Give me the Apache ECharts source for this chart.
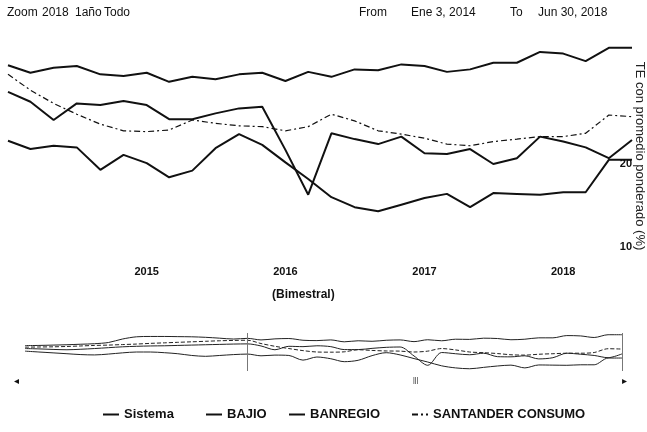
<!DOCTYPE html>
<html><head><meta charset="utf-8">
<script src="https://cdn.jsdelivr.net/npm/echarts@6/dist/echarts.min.js"></script>
<style>html,body{margin:0;padding:0;background:#fff}#c{width:647px;height:432px}</style>
</head><body><div id="c"></div>
<script>
// Bimonthly dates shown in the main panel
const dates = ['2014-01-01','2014-03-01','2014-05-01','2014-07-01','2014-09-01','2014-11-01',
  '2015-01-01','2015-03-01','2015-05-01','2015-07-01','2015-09-01','2015-11-01',
  '2016-01-01','2016-03-01','2016-05-01','2016-07-01','2016-09-01','2016-11-01',
  '2017-01-01','2017-03-01','2017-05-01','2017-07-01','2017-09-01','2017-11-01',
  '2018-01-01','2018-03-01','2018-05-01','2018-07-01'];
// Earlier history shown only in the navigator
const histDates = ['2011-05-01','2011-07-01','2011-09-01','2011-11-01','2012-01-01','2012-03-01',
  '2012-05-01','2012-07-01','2012-09-01','2012-11-01','2013-01-01','2013-03-01',
  '2013-05-01','2013-07-01','2013-09-01','2013-11-01'];

const sistema   = [31.9,31.0,31.6,31.8,30.8,30.6,31.0,29.9,30.5,30.2,30.8,31.0,30.0,31.1,30.5,31.4,31.3,32.0,31.8,31.1,31.4,32.2,32.2,33.5,33.3,32.4,34.0,34.0];
const bajio     = [22.8,21.8,22.2,22.0,19.3,21.1,20.1,18.4,19.2,21.9,23.6,22.3,20.2,18.2,16.0,14.8,14.3,15.1,15.9,16.4,14.8,16.5,16.4,16.3,16.6,16.6,20.5,20.5];
const banregio  = [28.7,27.5,25.3,27.3,27.1,27.6,27.1,25.4,25.4,26.1,26.7,26.9,21.7,16.3,23.7,23.0,22.4,23.3,21.3,21.2,21.8,20.0,20.7,23.3,22.7,22.0,20.7,22.9];
const santander = [30.8,28.9,27.3,26.0,24.8,24.0,23.9,24.1,25.3,24.9,24.6,24.5,24.0,24.5,26.0,25.2,24.0,23.6,23.1,22.4,22.2,22.7,23.0,23.3,23.3,23.7,25.9,25.7];

const sistemaHist   = [27.7,27.8,28.0,28.2,28.5,28.8,29.5,31.5,32.8,33.0,33.0,32.9,32.8,32.5,32.0,31.5];
const bajioHist     = [24.5,24.0,23.5,23.0,22.5,22.3,22.8,23.5,24.0,24.0,23.6,23.0,22.0,21.5,22.0,22.5];
const banregioHist  = [26.0,25.8,25.5,25.3,25.6,26.0,26.5,27.0,27.3,27.5,27.6,27.8,28.0,28.2,28.4,28.6];
const santanderHist = [26.8,26.9,27.0,27.2,27.5,27.8,28.0,28.3,28.6,29.0,29.3,29.6,29.9,30.2,30.5,30.7];

const yTickLabels = [10, 20];
const xTickYears = [2015, 2016, 2017, 2018];
const names = ['Sistema','BAJIO','BANREGIO','SANTANDER CONSUMO'];
const yTitle = 'TE con promedio ponderado (%)';

const F = '"Liberation Sans", Arial, sans-serif';
const INK = '#111';
const pair = (d, v) => d.map((x, i) => [x, v[i]]);

const mainVals = [sistema, bajio, banregio, santander];
const histVals = [sistemaHist, bajioHist, banregioHist, santanderHist];
const styles = [
  {width: 2, type: 'solid'},
  {width: 2, type: 'solid'},
  {width: 2, type: 'solid'},
  {width: 1.2, type: [6, 3, 2, 3]}
];

const series = [];
names.forEach((n, k) => {
  series.push({
    name: n, type: 'line', xAxisIndex: 0, yAxisIndex: 0, symbol: 'none',
    data: pair(dates, mainVals[k]),
    lineStyle: {color: INK, width: styles[k].width, type: styles[k].type},
    itemStyle: {color: INK}, z: 3
  });
});
names.forEach((n, k) => {
  const s = {
    name: n, type: 'line', xAxisIndex: 1, yAxisIndex: 1, symbol: 'none', smooth: 0.3,
    data: pair(histDates.concat(dates), histVals[k].concat(mainVals[k])),
    lineStyle: {color: '#222', width: 1, type: k === 3 ? [4, 2] : 'solid'},
    itemStyle: {color: INK}, silent: true
  };
  if (k === 0) {
    s.markLine = {
      silent: true, symbol: ['none', 'none'], label: {show: false},
      lineStyle: {color: '#777', width: 1, type: 'solid'},
      data: [{xAxis: dates[0]}, {xAxis: dates[dates.length - 1]}]
    };
  }
  series.push(s);
});

const legendLeft = [97, 200, 283, 406];
const legends = names.map((n, k) => ({
  data: [n], left: legendLeft[k], top: 403, itemWidth: 16, itemHeight: 12, itemGap: 0,
  itemStyle: {color: 'rgba(0,0,0,0)', borderColor: 'rgba(0,0,0,0)', borderWidth: 0, opacity: 0},
  textStyle: {fontFamily: F, fontSize: 13, fontWeight: 'bold', color: INK}
}));

const txt = (t, x, y, size, extra, rot) => ({
  type: 'text', x: x, y: y, rotation: rot || 0, silent: true,
  style: Object.assign({text: t, font: (size || 12) + 'px ' + F, fill: INK, textVerticalAlign: 'middle'}, extra || {})
});

const chart = echarts.init(document.getElementById('c'), null, {renderer: 'canvas'});
chart.setOption({
  animation: false,
  backgroundColor: '#fff',
  grid: [
    {left: 8, right: 15, top: 39.5, bottom: 185, containLabel: false, outerBoundsMode: 'none'},
    {left: 25, right: 25, top: 333, height: 38, containLabel: false, outerBoundsMode: 'none'}
  ],
  xAxis: [
    {
      type: 'time', gridIndex: 0, min: '2014-01-01', max: '2018-07-01',
      minInterval: 365 * 864e5, maxInterval: 366 * 864e5,
      axisLine: {show: false}, axisTick: {show: false}, splitLine: {show: false},
      axisLabel: {
        formatter: v => { const y = new Date(v).getFullYear(); return xTickYears.includes(y) ? String(y) : ''; },
        showMinLabel: false, showMaxLabel: false, margin: 19,
        fontFamily: F, fontSize: 11, fontWeight: 'bold', color: INK}
    },
    {
      type: 'time', gridIndex: 1, min: '2011-05-01', max: '2018-07-01', show: false
    }
  ],
  yAxis: [
    {
      type: 'value', gridIndex: 0, position: 'right', min: 10, max: 35, interval: 10,
      axisLine: {show: false}, axisTick: {show: false}, splitLine: {show: false},
      axisLabel: {inside: true, margin: 0, formatter: v => yTickLabels.includes(v) ? String(v) : '',
        fontFamily: F, fontSize: 11, fontWeight: 'bold', color: INK}
    },
    {type: 'value', gridIndex: 1, min: 13, max: 35, show: false}
  ],
  legend: legends,
  graphic: [
    txt('Zoom', 7, 13), txt('2018', 42, 13), txt('1año', 75, 13), txt('Todo', 104, 13),
    txt('From', 359, 13), txt('Ene 3, 2014', 411, 13), txt('To', 510, 13), txt('Jun 30, 2018', 538, 13),
    txt('(Bimestral)', 272, 295, 13, {fontWeight: 'bold'}),
    txt(yTitle, 640, 156, 13, {textAlign: 'center', fill: '#222'}, -Math.PI / 2),
    txt('◂', 14, 381, 10), txt('▸', 622, 381, 10), txt('|||', 413, 380, 7)
  ],
  series: series
});
</script>
</body></html>
